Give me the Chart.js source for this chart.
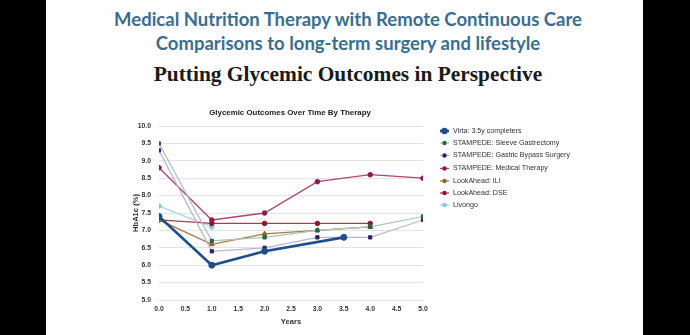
<!DOCTYPE html>
<html>
<head>
<meta charset="utf-8">
<script src="https://cdn.jsdelivr.net/npm/chart.js@4.4.1/dist/chart.umd.min.js"></script>
<style>
  html, body { margin: 0; padding: 0; background: #000; }
  #page { position: relative; width: 690px; height: 335px; overflow: hidden; }
  #panel { position: absolute; left: 46px; top: 0; width: 597px; height: 335px; background: #fdfefd; }
  .head { position: absolute; left: 0; width: 696px; text-align: center; white-space: nowrap; }
  #h1, #h2 { font-family: "Lato", sans-serif; font-weight: bold; font-size: 18.5px; color: #3b6e8e; }
  #h1 { top: 8px; }
  #h2 { top: 32px; }
  #h3 { top: 62px; font-family: "Liberation Serif", serif; font-weight: bold; font-size: 21.4px; color: #1a1a1a; }
  canvas { position: absolute; left: 0; top: 0; }
</style>
</head>
<body>
<div id="page">
  <div id="panel"></div>
  <div class="head" id="h1">Medical Nutrition Therapy with Remote Continuous Care</div>
  <div class="head" id="h2">Comparisons to long-term surgery and lifestyle</div>
  <div class="head" id="h3">Putting Glycemic Outcomes in Perspective</div>
  <canvas id="chart" width="690" height="335"></canvas>
</div>
<script>
// values (HbA1c %, by year)
const seriesNames = [
  "Virta: 3.5y completers",
  "STAMPEDE: Sleeve Gastrectomy",
  "STAMPEDE: Gastric Bypass Surgery",
  "STAMPEDE: Medical Therapy",
  "LookAhead: ILI",
  "LookAhead: DSE",
  "Livongo"
]
const virtaYears = [0, 1, 2, 3.5]
const virtaA1c = [7.4, 6.0, 6.4, 6.8]
const stampedeYears = [0, 1, 2, 3, 4, 5]
const sleeveA1c = [9.5, 6.7, 6.8, 7.0, 7.1, 7.4]
const bypassA1c = [9.3, 6.4, 6.5, 6.8, 6.8, 7.3]
const medicalA1c = [8.8, 7.3, 7.5, 8.4, 8.6, 8.5]
const lookAheadYears = [0, 1, 2, 3, 4]
const iliA1c = [7.3, 6.6, 6.9, 7.0, 7.1]
const dseA1c = [7.3, 7.2, 7.2, 7.2, 7.2]
const livongoYears = [0, 1]
const livongoA1c = [7.7, 7.1]

const xTicks = [0, 0.5, 1, 1.5, 2, 2.5, 3, 3.5, 4, 4.5, 5]
const yTicks = [5, 5.5, 6, 6.5, 7, 7.5, 8, 8.5, 9, 9.5, 10]

const chartTitle = "Glycemic Outcomes Over Time By Therapy"

const pts = (xs, ys) => xs.map((x, i) => ({ x: x, y: ys[i] }))

const FONT = "'Liberation Sans', Arial, sans-serif"

const datasets = [
  { label: seriesNames[0], data: pts(virtaYears, virtaA1c), borderColor: "#1d4f8a", pointBackgroundColor: "#1d4f8a", pointBorderColor: "#1d4f8a", borderWidth: 2.6, pointBorderWidth: 1, pointRadius: 3, pointStyle: "circle" },
  { label: seriesNames[1], data: pts(stampedeYears, sleeveA1c), borderColor: "#a9c6b6", pointBackgroundColor: "#236645", pointBorderColor: "#236645", borderWidth: 1.2, pointBorderWidth: 1, pointRadius: 2.3, pointStyle: "rect" },
  { label: seriesNames[2], data: pts(stampedeYears, bypassA1c), borderColor: "#bdb4d4", pointBackgroundColor: "#341c72", pointBorderColor: "#341c72", borderWidth: 1.2, pointBorderWidth: 1, pointRadius: 2.3, pointStyle: "rect" },
  { label: seriesNames[3], data: pts(stampedeYears, medicalA1c), borderColor: "#b04478", pointBackgroundColor: "#8e1a50", pointBorderColor: "#8e1a50", borderWidth: 1.3, pointBorderWidth: 1, pointRadius: 2.3, pointStyle: "circle" },
  { label: seriesNames[4], data: pts(lookAheadYears, iliA1c), borderColor: "#a87c4c", pointBackgroundColor: "#96632c", pointBorderColor: "#96632c", borderWidth: 1.3, pointBorderWidth: 1, pointRadius: 2.8, pointStyle: "triangle" },
  { label: seriesNames[5], data: pts(lookAheadYears, dseA1c), borderColor: "#a6404f", pointBackgroundColor: "#8a1a2c", pointBorderColor: "#8a1a2c", borderWidth: 1.3, pointBorderWidth: 1, pointRadius: 2.3, pointStyle: "circle" },
  { label: seriesNames[6], data: pts(livongoYears, livongoA1c), borderColor: "#a6d4ee", pointBackgroundColor: "#8cc6e6", pointBorderColor: "#8cc6e6", borderWidth: 1.3, pointBorderWidth: 1, pointRadius: 2.3, pointStyle: "circle" }
]

// chart title + legend (short line with a marker, text to the right)
const overlay = {
  id: "overlay",
  afterDraw(chart) {
    const ctx = chart.ctx
    ctx.save()
    ctx.fillStyle = "#222"
    ctx.font = "bold 7.9px " + FONT
    ctx.textAlign = "center"
    ctx.textBaseline = "middle"
    ctx.fillText(chartTitle, 290, 113)

    const x0 = 440
    const rows = [131, 143, 155.5, 168.5, 181, 193, 205]
    chart.data.datasets.forEach((ds, i) => {
      const y = rows[i]
      ctx.strokeStyle = ds.borderColor
      ctx.lineWidth = i === 0 ? 2.6 : 1.3
      ctx.beginPath()
      ctx.moveTo(x0, y)
      ctx.lineTo(x0 + 9, y)
      ctx.stroke()
      ctx.fillStyle = ds.pointBackgroundColor
      ctx.beginPath()
      ctx.arc(x0 + 4.5, y, i === 0 ? 3.2 : 2.2, 0, Math.PI * 2)
      ctx.fill()
      ctx.fillStyle = "#333"
      ctx.font = "7.1px " + FONT
      ctx.textAlign = "left"
      ctx.fillText(ds.label, x0 + 13, y)
    })
    ctx.restore()
  }
}

const chart = new Chart(document.getElementById("chart"), {
  type: "line",
  data: { datasets: datasets },
  options: {
    responsive: false,
    animation: false,
    layout: { padding: { top: 126, left: 127, right: 267, bottom: 5 } },
    elements: { line: { tension: 0 } },
    plugins: {
      legend: { display: false },
      tooltip: { enabled: false },
      title: { display: false }
    },
    scales: {
      x: {
        type: "linear",
        min: 0,
        max: 5,
        afterBuildTicks: s => { s.ticks = xTicks.map(v => ({ value: v })) },
        afterFit: s => { s.height = 30 },
        grid: { display: false, drawTicks: false },
        border: { display: false },
        ticks: {
          padding: 5,
          maxRotation: 0,
          color: "#333",
          font: { family: FONT, size: 6.8, weight: "bold" },
          callback: v => v.toFixed(1)
        },
        title: {
          display: true,
          text: "Years",
          color: "#333",
          font: { family: FONT, size: 7.6, weight: "bold" },
          padding: { top: 0, bottom: 4 }
        }
      },
      y: {
        min: 5,
        max: 10,
        afterBuildTicks: s => { s.ticks = yTicks.map(v => ({ value: v })) },
        afterFit: s => { s.width = 32 },
        grid: { color: "#e4e4e4", lineWidth: 1, drawTicks: false },
        border: { display: false },
        ticks: {
          padding: 8,
          color: "#333",
          font: { family: FONT, size: 6.8, weight: "bold" },
          callback: v => v.toFixed(1)
        },
        title: {
          display: true,
          text: "HbA1c (%)",
          color: "#333",
          font: { family: FONT, size: 7.6, weight: "bold" },
          padding: { top: 4, bottom: 0 }
        }
      }
    }
  },
  plugins: [overlay]
})
</script>
</body>
</html>
